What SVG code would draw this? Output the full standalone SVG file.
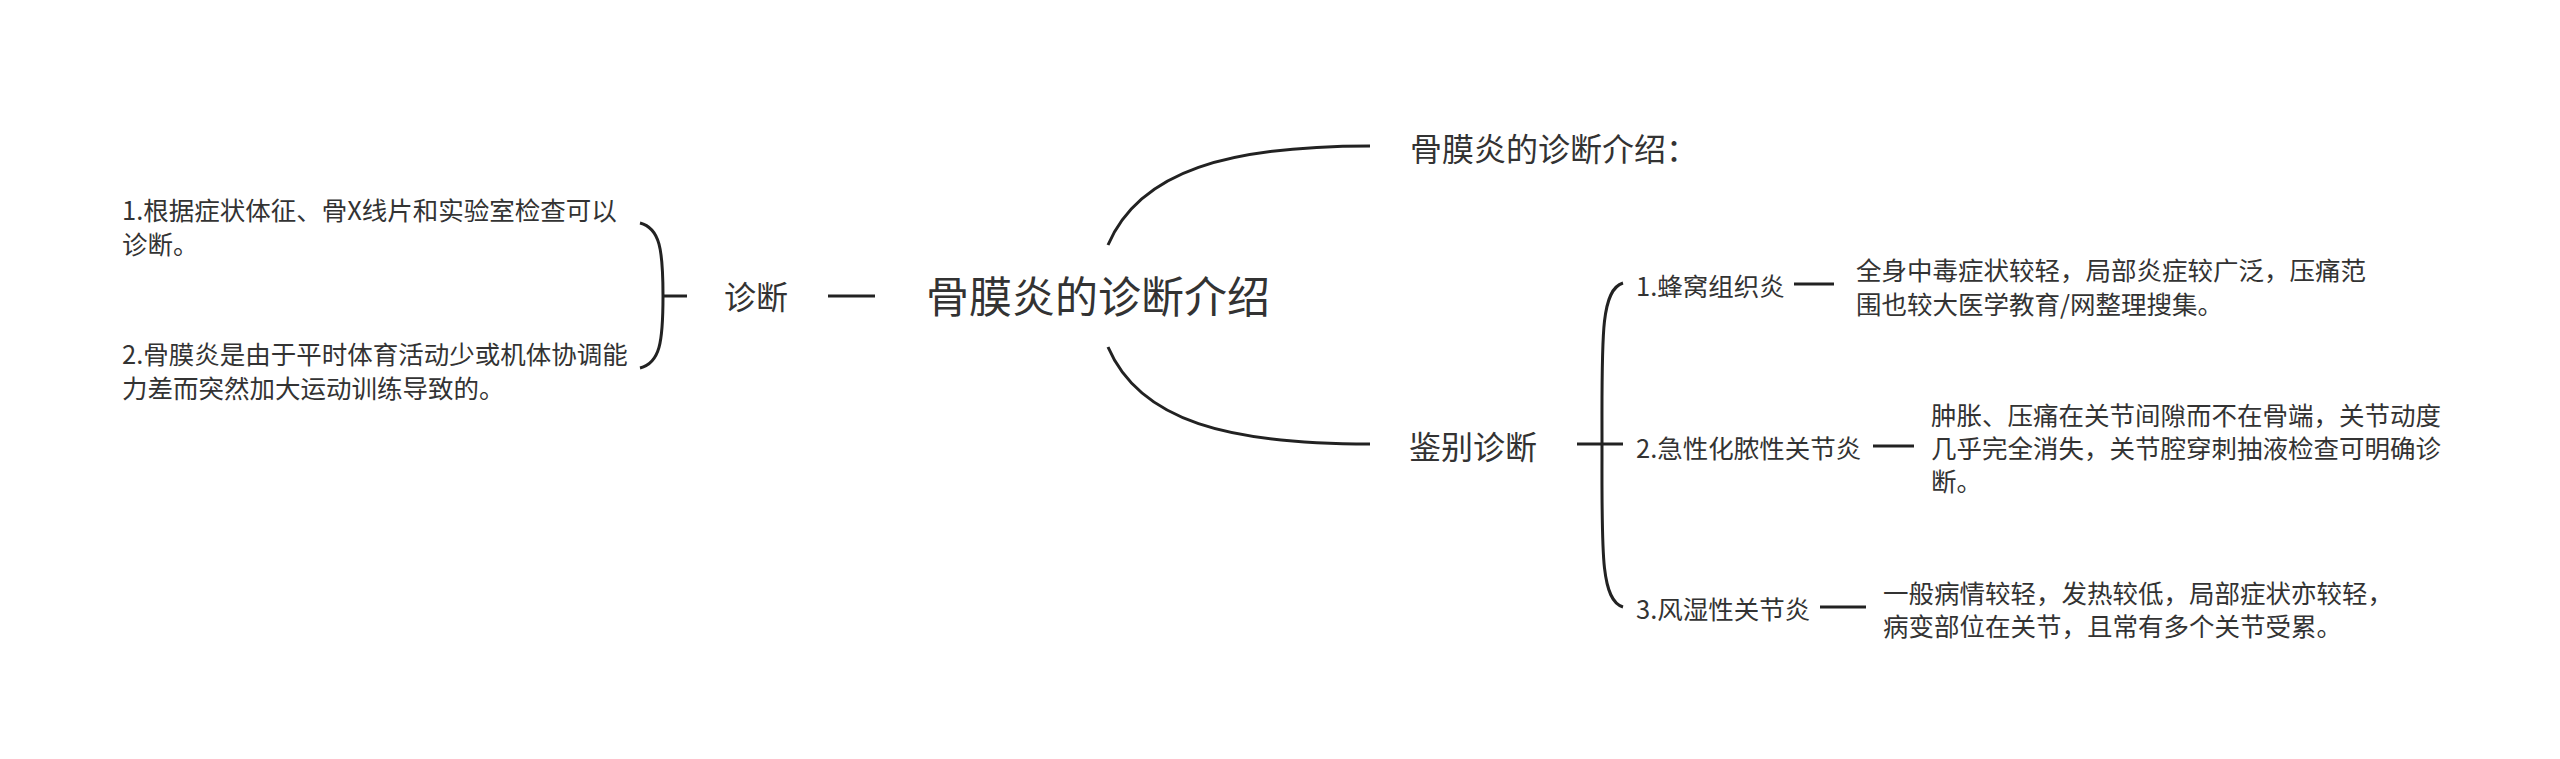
<svg xmlns="http://www.w3.org/2000/svg" width="2560" height="759" viewBox="0 0 2560 759">
<style>
text{font-family:"Noto Sans CJK SC","Noto Sans",sans-serif;fill:#333;dominant-baseline:central}
.s{font-size:25.5px}
.m{font-size:32px}
.l{font-size:43px}
.c{fill:none;stroke:#222;stroke-width:3;stroke-linecap:butt}
</style>
<rect width="2560" height="759" fill="#fff"/>
<g id="connectors">
<path class="c" d="M1108,245 C1140,170 1230,146 1370,146"/>
<path class="c" d="M1108,347 C1140,422 1230,444 1370,444"/>
<path class="c" d="M828,296 H875"/>
<path class="c" d="M640,223 C660,228 663,250 663,296 C663,342 660,363 640,368"/>
<path class="c" d="M663,296 H687"/>
<path class="c" d="M1577,444 H1623"/>
<path class="c" d="M1623,283 C1600,290 1602,340 1602,444 C1602,548 1600,600 1623,607"/>
<path class="c" d="M1794,284 H1834"/>
<path class="c" d="M1873,446 H1914"/>
<path class="c" d="M1820,607 H1866"/>
</g>
<g id="root"><text class="l" x="926" y="294">骨膜炎的诊断介绍</text></g>
<g id="diag"><text class="m" x="724" y="295">诊断</text></g>
<g id="diag-1"><text class="s" x="122" y="208">1.根据症状体征、骨X线片和实验室检查可以</text><text class="s" x="122" y="242">诊断。</text></g>
<g id="diag-2"><text class="s" x="122" y="352">2.骨膜炎是由于平时体育活动少或机体协调能</text><text class="s" x="122" y="386">力差而突然加大运动训练导致的。</text></g>
<g id="intro"><text class="m" x="1410" y="147">骨膜炎的诊断介绍：</text></g>
<g id="diff"><text class="m" x="1409" y="445">鉴别诊断</text></g>
<g id="d1"><text class="s" x="1636" y="284">1.蜂窝组织炎</text></g>
<g id="d1-desc"><text class="s" x="1856" y="268">全身中毒症状较轻，局部炎症较广泛，压痛范</text><text class="s" x="1856" y="302">围也较大医学教育/网整理搜集。</text></g>
<g id="d2"><text class="s" x="1636" y="446">2.急性化脓性关节炎</text></g>
<g id="d2-desc"><text class="s" x="1931" y="413">肿胀、压痛在关节间隙而不在骨端，关节动度</text><text class="s" x="1931" y="446">几乎完全消失，关节腔穿刺抽液检查可明确诊</text><text class="s" x="1931" y="479">断。</text></g>
<g id="d3"><text class="s" x="1636" y="607">3.风湿性关节炎</text></g>
<g id="d3-desc"><text class="s" x="1883" y="591">一般病情较轻，发热较低，局部症状亦较轻，</text><text class="s" x="1883" y="624">病变部位在关节，且常有多个关节受累。</text></g>
</svg>
